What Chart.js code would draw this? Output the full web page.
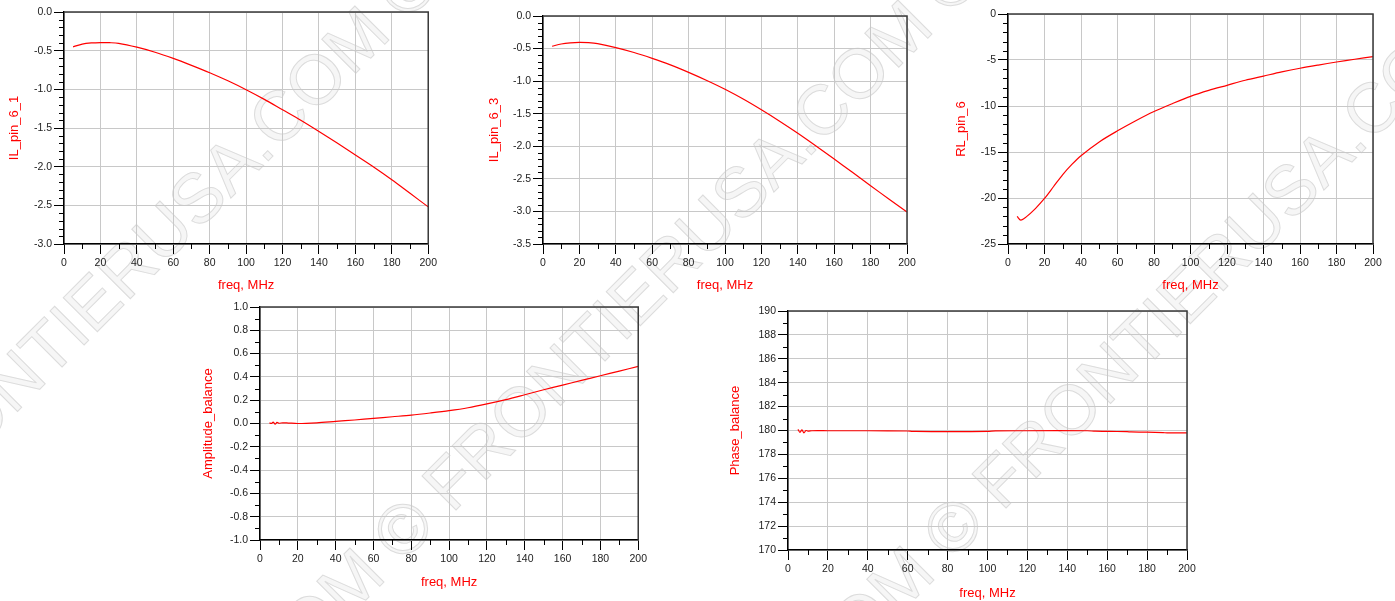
<!DOCTYPE html>
<html>
<head>
<meta charset="utf-8">
<script src="https://cdn.jsdelivr.net/npm/chart.js@4.4.0/dist/chart.umd.min.js"></script>
<style>
html, body { margin: 0; padding: 0; background: #fff; }
body { width: 1395px; height: 601px; position: relative; overflow: hidden; font-family: "Liberation Sans", Arial, sans-serif; }
.box { position: absolute; z-index: 1; }
.wm { position: absolute; z-index: 0; white-space: nowrap; font-family: "Liberation Sans", Arial, sans-serif;
      font-size: 70px; line-height: 70px; height: 70px; color: #f6f6f6; -webkit-text-stroke: 1px #dcdcdc;
      transform-origin: 0 50%; transform: rotate(-45deg); }
.wm .pre { position: absolute; right: 100%; top: 0; }
</style>
</head>
<body>

<div class="wm" style="left:-108px; top:468px;"><span class="pre">FRONTIERUSA.COM ©&nbsp;</span>FRONTIERUSA.COM © FRONTIERUSA.COM ©</div>
<div class="wm" style="left:435px; top:462px;"><span class="pre">FRONTIERUSA.COM ©&nbsp;</span>FRONTIERUSA.COM © FRONTIERUSA.COM ©</div>
<div class="wm" style="left:985px; top:460px;"><span class="pre">FRONTIERUSA.COM ©&nbsp;</span>FRONTIERUSA.COM © FRONTIERUSA.COM ©</div>

<div class="box" style="left:0px; top:0px;"><canvas id="c1" width="440" height="300"></canvas></div>
<div class="box" style="left:470px; top:0px;"><canvas id="c2" width="450" height="300"></canvas></div>
<div class="box" style="left:940px; top:0px;"><canvas id="c3" width="450" height="300"></canvas></div>
<div class="box" style="left:190px; top:295px;"><canvas id="c4" width="460" height="300"></canvas></div>
<div class="box" style="left:720px; top:295px;"><canvas id="c5" width="480" height="306"></canvas></div>

<script>
// frequency points (MHz) and values
const freq = [5, 10, 15, 20, 25, 30, 40, 50, 60, 70, 80, 90, 100, 110, 120, 130, 140, 150, 160, 170, 180, 190, 200];
const il61 = [-0.45, -0.415, -0.40, -0.395, -0.397, -0.405, -0.455, -0.52, -0.60, -0.69, -0.785, -0.89, -1.005, -1.13, -1.265, -1.40, -1.545, -1.695, -1.85, -2.005, -2.17, -2.345, -2.52];
const il63 = [-0.465, -0.43, -0.412, -0.405, -0.41, -0.425, -0.485, -0.56, -0.65, -0.75, -0.865, -0.99, -1.125, -1.275, -1.44, -1.615, -1.80, -1.995, -2.195, -2.40, -2.605, -2.81, -3.01];

const rlFreq = [5, 7, 10, 15, 20, 25, 30, 35, 40, 50, 60, 70, 80, 90, 100, 110, 120, 130, 140, 150, 160, 170, 180, 190, 200];
const rl6 = [-22.0, -22.4, -22.05, -21.15, -20.05, -18.75, -17.45, -16.35, -15.4, -13.9, -12.7, -11.6, -10.6, -9.75, -8.95, -8.3, -7.75, -7.2, -6.75, -6.3, -5.9, -5.55, -5.22, -4.92, -4.64];

const ampFreq = [5, 6, 7, 8, 9, 10, 12, 15, 20, 30, 40, 50, 60, 70, 80, 90, 100, 110, 120, 130, 140, 150, 160, 170, 180, 190, 200];
const ampBal = [0.005, 0.0, 0.012, -0.006, 0.01, 0.002, 0.006, 0.004, 0.0, 0.006, 0.018, 0.03, 0.044, 0.058, 0.072, 0.09, 0.11, 0.135, 0.168, 0.205, 0.247, 0.29, 0.33, 0.37, 0.41, 0.45, 0.49];

const phFreq = [5, 6, 7, 8, 9, 10, 12, 20, 40, 60, 62, 64, 80, 100, 104, 120, 150, 154, 160, 170, 172, 180, 188, 190, 200];
const phBal = [180.1, 179.85, 180.05, 179.8, 180.0, 179.95, 179.98, 179.98, 179.98, 179.96, 179.93, 179.92, 179.9, 179.92, 179.97, 179.98, 179.98, 179.94, 179.93, 179.9, 179.88, 179.86, 179.82, 179.8, 179.8];

const xTicks = { min: 0, max: 200, major: 20, minor: 10 };

function pts(xs, ys) {
    return xs.map(function(x, i) { return { x: x, y: ys[i] }; });
}

// minor tick marks + top/right frame
const axisDeco = {
    id: 'axisDeco',
    afterDraw(chart, args, o) {
        const ctx = chart.ctx;
        const a = chart.chartArea;
        const x = chart.scales.x, y = chart.scales.y;
        ctx.save();
        ctx.strokeStyle = '#000';
        ctx.lineWidth = 1;
        ctx.beginPath();
        let n = Math.round((x.max - x.min) / o.xMinor);
        for (let i = 0; i <= n; i++) {
            const v = x.min + i * o.xMinor;
            const r = (v - x.min) / o.xMajor;
            if (Math.abs(r - Math.round(r)) < 1e-6) continue;
            const px = Math.round(x.getPixelForValue(v)) + 0.5;
            ctx.moveTo(px, a.bottom);
            ctx.lineTo(px, a.bottom + 5);
        }
        n = Math.round((y.max - y.min) / o.yMinor);
        for (let i = 0; i <= n; i++) {
            const v = y.min + i * o.yMinor;
            const r = (v - y.min) / o.yMajor;
            if (Math.abs(r - Math.round(r)) < 1e-6) continue;
            const py = Math.round(y.getPixelForValue(v)) + 0.5;
            ctx.moveTo(a.left, py);
            ctx.lineTo(a.left - 5, py);
        }
        ctx.stroke();
        ctx.strokeStyle = '#3a3a3a';
        ctx.lineWidth = 1.5;
        ctx.beginPath();
        ctx.moveTo(a.left, a.top);
        ctx.lineTo(a.right, a.top);
        ctx.lineTo(a.right, a.bottom);
        ctx.stroke();
        ctx.restore();
    }
};

function makeChart(id, s) {
    const canvasElement = document.getElementById(id);
    return new Chart(canvasElement, {
        type: 'line',
        data: {
            datasets: [{
                label: s.title,
                data: s.data,
                borderColor: '#ff0000',
                borderWidth: 1.2,
                pointRadius: 0,
                tension: 0.3,
                fill: false
            }]
        },
        options: {
            responsive: false,
            animation: false,
            events: [],
            layout: { padding: { left: 0, top: s.padTop, right: s.padRight, bottom: 0 } },
            plugins: {
                legend: { display: false },
                tooltip: { enabled: false },
                axisDeco: { xMinor: xTicks.minor, xMajor: xTicks.major, yMinor: s.yMinor, yMajor: s.yStep }
            },
            scales: {
                x: {
                    type: 'linear',
                    min: xTicks.min,
                    max: xTicks.max,
                    afterFit: function(sc) { sc.height = s.xH; },
                    ticks: {
                        stepSize: xTicks.major,
                        padding: 3,
                        color: '#222',
                        font: { family: 'Liberation Sans', size: 10.5 },
                        maxRotation: 0
                    },
                    grid: { color: '#c8c8c8', lineWidth: 1, tickLength: 10, tickColor: '#000', tickWidth: 1 },
                    border: { color: '#000', width: 1.5 },
                    title: {
                        display: true, text: 'freq, MHz', color: '#ff0000',
                        font: { family: 'Liberation Sans', size: 13 },
                        padding: { top: 0, bottom: s.xTitlePad }
                    }
                },
                y: {
                    min: s.yMin,
                    max: s.yMax,
                    afterFit: function(sc) { sc.width = s.yW; },
                    ticks: {
                        stepSize: s.yStep,
                        padding: 2,
                        color: '#222',
                        font: { family: 'Liberation Sans', size: 10.5 },
                        callback: function(v) { if (Math.abs(v) < 1e-9) v = 0; return v.toFixed(s.dec); }
                    },
                    grid: { color: '#c8c8c8', lineWidth: 1, tickLength: 10, tickColor: '#000', tickWidth: 1 },
                    border: { color: '#000', width: 1.5 },
                    title: {
                        display: true, text: s.title, color: '#ff0000',
                        font: { family: 'Liberation Sans', size: 13 },
                        padding: { top: s.yTitlePad, bottom: 0 }
                    }
                }
            }
        },
        plugins: [axisDeco]
    });
}

makeChart('c1', { title: 'IL_pin_6_1', data: pts(freq, il61), yMin: -3, yMax: 0, yStep: 0.5, yMinor: 0.1, dec: 1,
    yW: 64, padTop: 12, padRight: 10, xH: 56, yTitlePad: 7, xTitlePad: 7 });
makeChart('c2', { title: 'IL_pin_6_3', data: pts(freq, il63), yMin: -3.5, yMax: 0, yStep: 0.5, yMinor: 0.1, dec: 1,
    yW: 73, padTop: 16, padRight: 13, xH: 56, yTitlePad: 17, xTitlePad: 7 });
makeChart('c3', { title: 'RL_pin_6', data: pts(rlFreq, rl6), yMin: -25, yMax: 0, yStep: 5, yMinor: 1, dec: 0,
    yW: 68, padTop: 14, padRight: 17, xH: 56, yTitlePad: 14, xTitlePad: 7 });
makeChart('c4', { title: 'Amplitude_balance', data: pts(ampFreq, ampBal), yMin: -1, yMax: 1, yStep: 0.2, yMinor: 0.1, dec: 1,
    yW: 70, padTop: 12, padRight: 10, xH: 55, yTitlePad: 11, xTitlePad: 5 });
makeChart('c5', { title: 'Phase_balance', data: pts(phFreq, phBal), yMin: 170, yMax: 190, yStep: 2, yMinor: 1, dec: 0,
    yW: 68, padTop: 16, padRight: 13, xH: 51, yTitlePad: 8, xTitlePad: 0 });
</script>
</body>
</html>
